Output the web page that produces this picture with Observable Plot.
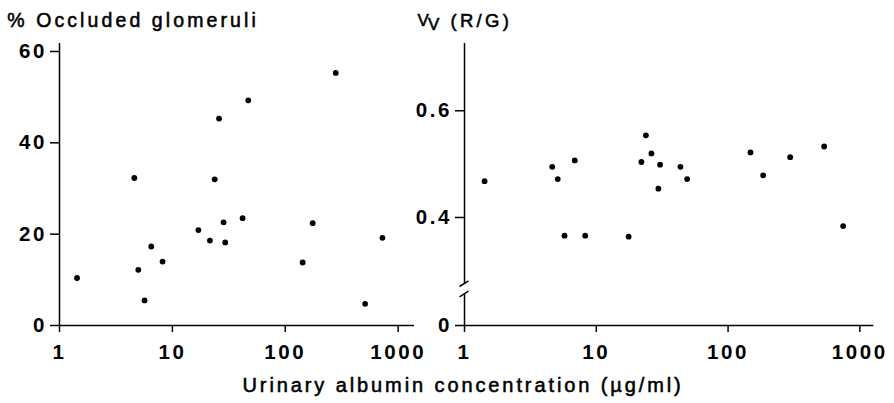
<!DOCTYPE html>
<html>
<head>
<meta charset="utf-8">
<script src="https://cdn.jsdelivr.net/npm/d3@7"></script>
<script src="https://cdn.jsdelivr.net/npm/@observablehq/plot@0.6"></script>
<style>
  html, body { margin: 0; padding: 0; background: #fff; }
  #wrap { position: relative; width: 894px; height: 403px; overflow: hidden; background: #fff; }
  #wrap svg { position: absolute; left: 0; top: 0; overflow: visible; }
  #wrap svg g[aria-label*="axis"] line,
  #wrap svg g[aria-label*="axis"] path { stroke-width: 1.5px; }
</style>
</head>
<body>
<div id="wrap"></div>
<script>
// ---- data ----
const albuminLeft = [1.43, 4.6, 4.99, 5.67, 6.5, 8.19, 17.0, 21.5, 23.7, 25.9, 28.4, 29.4, 41.9, 47, 142.6, 175, 280, 510, 726];
const occludedPct = [10.4, 32.3, 12.2, 5.5, 17.3, 14.0, 20.9, 18.6, 32.0, 45.3, 22.6, 18.2, 23.5, 49.3, 13.8, 22.4, 55.3, 4.75, 19.2];

const albuminRight = [1.42, 4.63, 5.1, 5.74, 6.87, 8.24, 17.6, 22.0, 23.8, 26.2, 29.6, 30.5, 43.5, 48.9, 147.9, 184.6, 296, 536, 747];
const vvRG = [0.468, 0.495, 0.472, 0.366, 0.507, 0.366, 0.364, 0.504, 0.554, 0.520, 0.454, 0.499, 0.495, 0.472, 0.522, 0.479, 0.513, 0.533, 0.384];

const xTicks = [1, 10, 100, 1000];
const leftYTicks = [0, 20, 40, 60];
const rightYTicks = [0, 0.4, 0.6];

const leftTitle = "% Occluded glomeruli";
const rightTitleMain = "V";
const rightTitleSub = "V";
const rightTitleRest = "(R/G)";
const xTitle = "Urinary albumin concentration (\u00b5g/ml)";

// ---- layout ----
const W = 894, H = 403;
const FONT = "'Liberation Sans', Arial, Helvetica, sans-serif";
const axisStyle = {
  background: "transparent",
  fontFamily: FONT,
  fontSize: "20.5px",
  fontWeight: "bold",
  letterSpacing: "2.6px",
  color: "#000",
  overflow: "visible"
};

const leftData = albuminLeft.map((a, i) => ({a, v: occludedPct[i]}));
const rightData = albuminRight.map((a, i) => ({a, v: vvRG[i]}));

const wrap = document.getElementById("wrap");

// left panel
const left = Plot.plot({
  width: W, height: H,
  marginLeft: 59, marginRight: 480, marginTop: 43, marginBottom: 78,
  style: axisStyle,
  x: {type: "log", domain: [1, 1396], ticks: xTicks, tickFormat: d => String(d), tickSize: 7, tickPadding: 12, label: null},
  y: {domain: [0, 61.75], ticks: leftYTicks, tickFormat: d => String(d), tickSize: 9, tickPadding: 3.5, label: null},
  marks: [
    Plot.ruleY([0], {stroke: "black", strokeWidth: 1.5}),
    Plot.ruleX([1], {stroke: "black", strokeWidth: 1.5}),
    Plot.dot(leftData, {x: "a", y: "v", r: 2.9, fill: "black", stroke: null})
  ]
});
wrap.appendChild(left);

// right panel (broken y axis)
const brkLow = 0.08, brkHigh = 0.275, yTopR = 0.726;
const right = Plot.plot({
  width: W, height: H,
  marginLeft: 464, marginRight: 20.7, marginTop: 43, marginBottom: 78,
  style: axisStyle,
  x: {type: "log", domain: [1, 1276], ticks: xTicks, tickFormat: d => String(d), tickSize: 7, tickPadding: 12, label: null},
  y: {type: "linear", domain: [0, brkLow, brkHigh, yTopR], range: [325, 294, 283.7, 43],
      ticks: rightYTicks, tickFormat: d => d === 0 ? "0" : d3.format(".1f")(d), tickSize: 9, tickPadding: 3.5, label: null},
  marks: [
    Plot.ruleY([0], {stroke: "black", strokeWidth: 1.5}),
    Plot.ruleX([1], {y1: 0, y2: brkLow, stroke: "black", strokeWidth: 1.5}),
    Plot.ruleX([1], {y1: brkHigh, y2: yTopR, stroke: "black", strokeWidth: 1.5}),
    (index, scales) => {
      const g = d3.create("svg:g").attr("stroke", "black").attr("stroke-width", 1.5);
      const x0 = scales.x(1);
      for (const v of [brkLow, brkHigh]) {
        const y0 = scales.y(v);
        g.append("line").attr("x1", x0 - 4.5).attr("y1", y0 + 2.8).attr("x2", x0 + 4.5).attr("y2", y0 - 2.8);
      }
      return g.node();
    },
    Plot.dot(rightData, {x: "a", y: "v", r: 2.9, fill: "black", stroke: null})
  ]
});
wrap.appendChild(right);

// titles
const t = d3.select(wrap).append("svg")
  .attr("width", W).attr("height", H)
  .style("font-family", FONT).style("fill", "#000")
  .style("stroke", "#000").style("stroke-width", "0.55px");

t.append("text").attr("x", 7.2).attr("y", 26.7)
  .style("font-size", "19.5px").style("letter-spacing", "3.1px")
  .text(leftTitle);

t.append("text").attr("x", 417.5).attr("y", 25.5)
  .style("font-size", "17px").text(rightTitleMain);
t.append("text").attr("x", 428).attr("y", 30)
  .style("font-size", "17px").text(rightTitleSub);
t.append("text").attr("x", 450.5).attr("y", 27.3)
  .style("font-size", "18.5px").style("letter-spacing", "3.3px").text(rightTitleRest);

t.append("text").attr("x", 242.5).attr("y", 392)
  .style("font-size", "20px").style("letter-spacing", "2.9px")
  .text(xTitle);
</script>
</body>
</html>
